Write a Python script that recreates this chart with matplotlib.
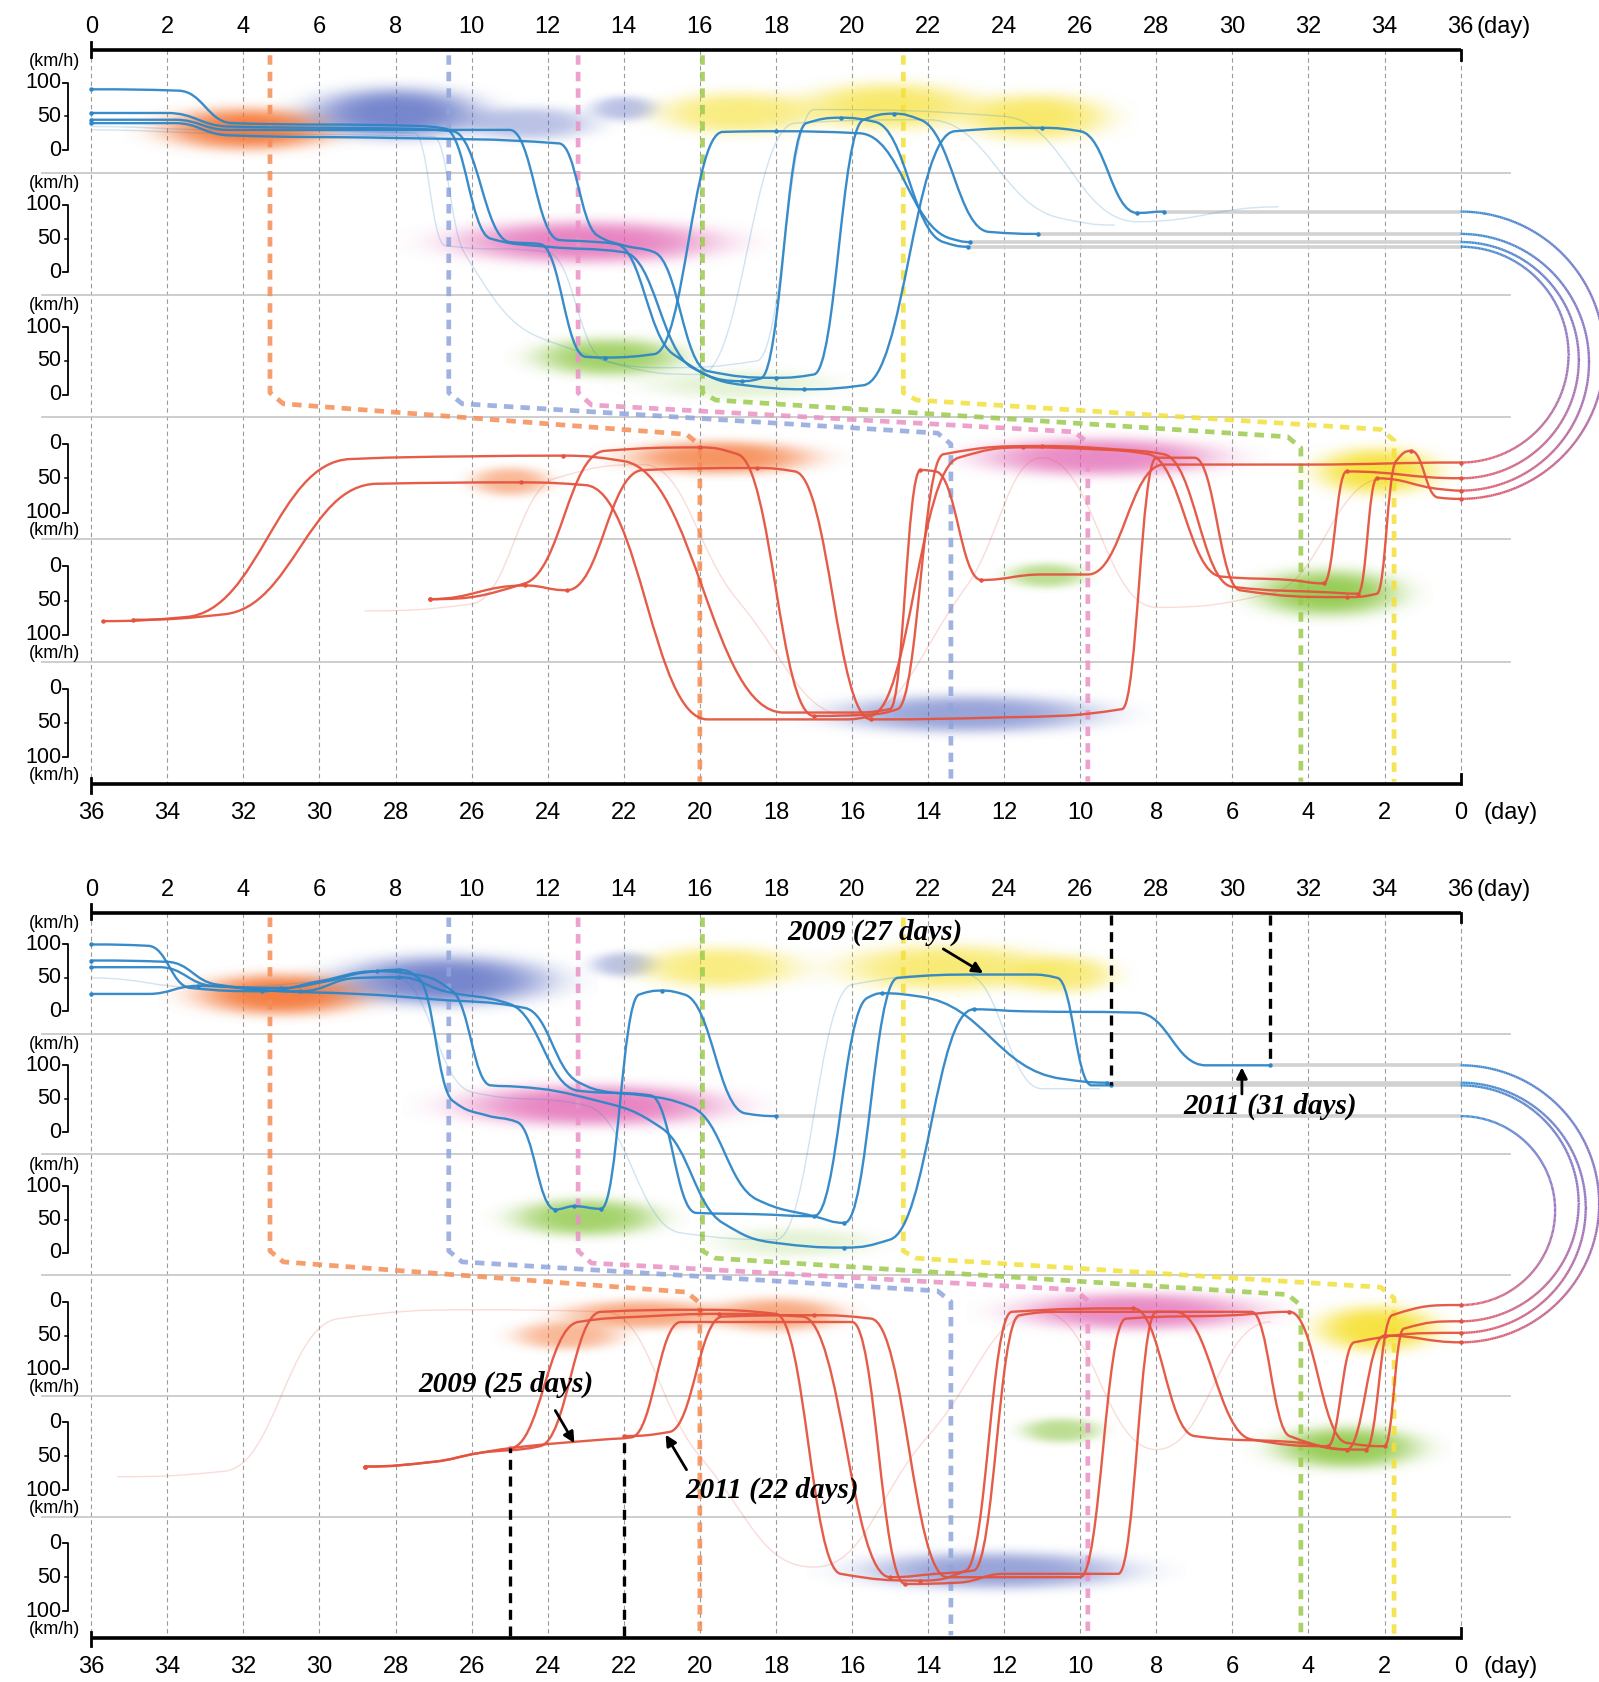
import numpy as np
import matplotlib
matplotlib.use("Agg")
import matplotlib.pyplot as plt
from matplotlib.path import Path
from matplotlib.patches import PathPatch
from matplotlib.collections import LineCollection
from matplotlib.colors import to_rgb

# ------------------------------------------------------------------ data
DAY_TICKS = list(range(0, 37, 2))
SPEED_TICKS = [100, 50, 0]

# trajectories: keyframes (day, lane, speed km/h)
# lanes 0-2 = outbound rows (day counted from left), lanes 3-5 = return rows
# (day counted from the right, as on the bottom axis)
P1_OUT = [
    [(0, 0, 55), (2.0, 0, 55), (3.6, 0, 35), (8.0, 0, 32), (9.5, 0, 28), (11.0, 1, 45), (11.8, 1, 42),
     (13.0, 2, 56), (13.5, 2, 55), (14.8, 2, 60), (16.6, 0, 27), (18.0, 0, 28), (20.2, 0, 25),
     (22.6, 1, 50), (23.1, 1, 45)],
    [(0, 0, 90), (2.3, 0, 88), (3.7, 0, 40), (8.5, 0, 36), (9.3, 0, 32), (10.5, 1, 50), (12.0, 1, 38),
     (14.0, 1, 30), (15.8, 2, 40), (17.2, 2, 14), (18.75, 2, 8), (20.3, 2, 14), (22.7, 0, 28),
     (25.0, 0, 33), (26.0, 0, 28), (27.5, 1, 88), (28.2, 1, 90)],
    [(0, 0, 45), (2.2, 0, 45), (3.6, 0, 30), (11.0, 0, 30), (12.3, 1, 48), (13.0, 1, 46), (13.8, 1, 42),
     (15.3, 2, 60), (17.1, 2, 20), (17.6, 2, 24), (18.8, 0, 40), (19.7, 0, 48), (20.6, 0, 42),
     (22.4, 1, 45), (23.05, 1, 38)],
    [(0, 0, 40), (2.2, 0, 40), (3.6, 0, 22), (8.0, 0, 18), (12.3, 0, 10), (13.3, 1, 55), (14.0, 1, 40),
     (14.8, 1, 30), (16.2, 2, 35), (18.0, 2, 25), (19.0, 2, 30), (20.3, 0, 45), (21.1, 0, 54),
     (21.8, 0, 45), (23.6, 1, 60), (24.9, 1, 57)],
]
P1_RET = [
    [(35.7, 4, 80), (33.5, 4, 74), (29.2, 3, 22), (26.0, 3, 18), (23.6, 3, 17), (22.0, 3, 25),
     (17.8, 5, 35), (16.0, 5, 35), (15.0, 5, 30), (14.2, 3, 38), (13.8, 3, 40), (12.6, 4, 20),
     (11.0, 4, 12), (9.8, 4, 12), (7.8, 3, 30), (4.0, 3, 30), (0, 3, 27)],
    [(34.9, 4, 78), (32.5, 4, 70), (28.5, 3, 58), (24.7, 3, 56), (23.0, 3, 60), (19.8, 5, 45),
     (16.2, 5, 45), (15.5, 5, 40), (13.2, 3, 20), (11.5, 3, 5), (9.5, 3, 8), (8.2, 3, 15),
     (6.3, 4, 15), (4.5, 4, 20), (3.6, 4, 25), (3.0, 3, 40), (0, 3, 50)],
    [(27.1, 4, 48), (24.6, 4, 25), (22.5, 3, 10), (20.0, 3, 5), (19.0, 3, 15), (17.0, 5, 40),
     (15.6, 5, 38), (14.8, 5, 30), (13.6, 3, 15), (11.0, 3, 3), (9.0, 3, 8), (7.8, 3, 15),
     (6.0, 4, 30), (3.5, 4, 38), (2.7, 4, 40), (2.2, 3, 50), (0.5, 3, 66), (0, 3, 68)],
    [(27.1, 4, 48), (24.6, 4, 28), (23.5, 4, 35), (21.5, 3, 38), (18.5, 3, 35), (17.5, 3, 40),
     (15.5, 5, 45), (12.0, 5, 42), (8.9, 5, 30), (8.0, 3, 20), (7.0, 3, 20), (5.8, 4, 35),
     (3.0, 4, 45), (2.2, 4, 40), (1.7, 3, 25), (1.3, 3, 10), (0.6, 3, 78), (0, 3, 80)],
]
P1_OUT_FAINT = [
    [(0, 0, 35), (3.0, 0, 30), (8.5, 0, 25), (9.3, 1, 40), (12.0, 1, 30), (13.5, 2, 50), (16.0, 2, 30),
     (18.5, 0, 40), (22.0, 0, 45), (25.5, 1, 80), (26.9, 1, 70)],
    [(0, 0, 30), (3.2, 0, 25), (9.0, 0, 20), (9.8, 1, 30), (12.5, 2, 70), (15.0, 2, 40), (17.5, 2, 50),
     (19.0, 0, 60), (24.0, 0, 50), (27.5, 1, 75), (31.2, 1, 97)],
]
P1_RET_FAINT = [
    [(28.8, 4, 65), (26.0, 4, 55), (23.8, 3, 50), (21.5, 3, 30), (19.0, 4, 50), (16.0, 5, 40),
     (13.0, 4, 30), (11.0, 3, 20), (8.0, 4, 60), (5.0, 4, 40), (2.0, 3, 50)],
]

P2_OUT = [
    [(0, 0, 66), (1.8, 0, 66), (3.2, 0, 38), (5.0, 0, 35), (6.2, 0, 45), (7.2, 0, 58), (8.1, 0, 62),
     (8.6, 0, 50), (9.5, 1, 47), (10.4, 1, 25), (11.2, 1, 15), (12.2, 2, 65), (12.7, 2, 70),
     (13.4, 2, 66), (14.4, 0, 25), (15.0, 0, 31), (15.6, 0, 25), (17.2, 1, 28), (18.0, 1, 24)],
    [(0, 0, 76), (2.0, 0, 74), (3.3, 0, 40), (5.5, 0, 30), (7.0, 0, 50), (8.1, 0, 51), (9.3, 0, 30),
     (11.0, 0, 11), (12.8, 1, 62), (14.7, 1, 55), (15.9, 2, 60), (17.5, 2, 58), (19.0, 2, 55),
     (20.4, 0, 20), (20.8, 0, 27), (21.8, 0, 22), (25.5, 1, 80), (26.7, 1, 74)],
    [(0, 0, 100), (1.5, 0, 98), (2.6, 0, 35), (4.5, 0, 30), (6.0, 0, 45), (7.5, 0, 60), (8.5, 0, 55),
     (9.5, 0, 30), (10.5, 1, 70), (11.2, 1, 68), (13.3, 1, 47), (15.0, 1, 6), (16.6, 2, 45),
     (18.0, 2, 15), (19.8, 2, 8), (21.0, 2, 20), (23.2, 0, 3), (24.5, 0, 0), (27.5, 0, -2),
     (29.3, 1, 100), (31.0, 1, 100)],
    [(0, 0, 26), (1.5, 0, 26), (2.8, 0, 38), (5.0, 0, 30), (7.0, 0, 26), (9.0, 0, 18), (11.4, 0, 5),
     (12.8, 1, 75), (13.6, 1, 60), (14.5, 1, 55), (15.8, 1, 37), (17.5, 2, 80), (19.0, 2, 55),
     (19.8, 2, 45), (21.2, 0, 50), (23.4, 0, 55), (24.7, 0, 55), (25.4, 0, 50), (26.3, 1, 70),
     (26.8, 1, 70)],
]
P2_RET = [
    [(25.0, 4, 38), (23.2, 3, 30), (21.5, 3, 22), (19.5, 3, 18), (17.3, 3, 22), (15.0, 5, 50),
     (13.8, 5, 45), (12.8, 5, 40), (11.6, 3, 20), (10.5, 3, 15), (7.5, 3, 15), (5.5, 4, 25),
     (3.5, 4, 35), (2.8, 3, 60), (0, 3, 46)],
    [(28.8, 4, 65), (27.0, 4, 58), (25.8, 4, 45), (24.2, 4, 35), (22.6, 3, 15), (20.0, 3, 12),
     (18.0, 3, 18), (16.3, 5, 45), (14.2, 5, 55), (13.0, 5, 40), (11.8, 3, 15), (8.6, 3, 10),
     (7.0, 4, 20), (4.2, 4, 30), (3.0, 4, 40), (2.0, 3, 50), (0, 3, 60)],
    [(28.8, 4, 65), (27.0, 4, 58), (25.8, 4, 45), (25.0, 4, 38), (22.5, 4, 25), (21.8, 4, 22),
     (20.5, 3, 30), (18.0, 3, 30), (16.0, 3, 30), (14.6, 5, 60), (13.2, 5, 58), (12.0, 5, 45),
     (9.0, 5, 45), (8.0, 3, 15), (5.5, 3, 15), (4.5, 4, 20), (2.5, 4, 40), (1.8, 3, 20), (0, 3, 5)],
    [(22.0, 4, 20), (20.8, 4, 14), (19.4, 3, 22), (17.0, 3, 20), (15.5, 3, 25), (13.5, 5, 50),
     (12.0, 5, 50), (10.0, 5, 50), (8.8, 3, 25), (6.0, 3, 20), (4.5, 3, 15), (3.0, 4, 30),
     (2.0, 4, 35), (1.5, 3, 40), (0, 3, 29)],
]
P2_OUT_FAINT = [
    [(0, 0, 50), (3.0, 0, 35), (8.0, 0, 50), (10.0, 1, 60), (13.0, 1, 40), (15.5, 2, 30), (18.0, 2, 20),
     (20.0, 0, 40), (23.0, 0, 55), (25.0, 1, 65), (26.5, 1, 65)],
]
P2_RET_FAINT = [
    [(35.3, 4, 80), (32.5, 4, 72), (29.5, 3, 25), (26.0, 3, 12), (22.5, 3, 15), (20.0, 4, 50),
     (17.0, 5, 35), (14.0, 4, 20), (11.0, 3, 15), (8.0, 4, 40), (5.0, 3, 30)],
]

# stop-over clusters (day, lane, speed, colour kind); return lanes use return day
P1_BLOB_DAY = [4.1, 8.0, 11.5, 14.0, 17.0, 21.0, 24.8, 13.0, 13.6, 17.0, 19.5, 25.0, 9.5, 2.2, 3.5, 10.9, 13.0]
P1_BLOB_LANE = [0, 0, 0, 0, 0, 0, 0, 1, 2, 2, 3, 3, 3, 3, 4, 4, 5]
P1_BLOB_SPEED = [30, 55, 40, 62, 55, 65, 48, 45, 55, 15, 20, 55, 20, 40, 40, 13, 38]
P1_BLOB_KIND = ['orange', 'blue', 'blue', 'blue', 'yellow', 'yellow', 'yellow', 'pink', 'green',
                'lightgreen', 'orange', 'orange', 'pink', 'yellow', 'green', 'green', 'blue']
P2_BLOB_DAY = [5.0, 9.3, 14.0, 16.5, 22.5, 25.5, 13.2, 13.0, 18.5, 21.5, 23.5, 18.0, 8.5, 2.2, 3.0, 10.5, 12.2]
P2_BLOB_LANE = [0, 0, 0, 0, 0, 0, 1, 2, 2, 3, 3, 3, 3, 3, 4, 4, 5]
P2_BLOB_SPEED = [25, 45, 70, 65, 65, 55, 40, 53, 15, 20, 50, 20, 15, 40, 38, 12, 40]
P2_BLOB_KIND = ['orange', 'blue', 'blue', 'yellow', 'yellow', 'yellow', 'pink', 'green', 'lightgreen',
                'orange', 'orange', 'orange', 'pink', 'yellow', 'green', 'green', 'blue']

# coloured event markers: day on the outbound axis, day on the return axis
EVENT_OUT_DAY = [4.7, 9.4, 12.8, 16.07, 21.35]
EVENT_RET_DAY = [20.0, 13.4, 9.8, 4.2, 1.75]
EVENT_KIND = ['orange', 'blue', 'pink', 'green', 'yellow']

ANNOT_TEXT = ['2009 (27 days)', '2011 (31 days)', '2009 (25 days)', '2011 (22 days)']
ANNOT_DAY = [26.8, 31.0, 25.0, 22.0]

# ------------------------------------------------------------------ styles
BLOB_RGB = {'orange': '#f4722f', 'blue': '#5468c0', 'pink': '#e05bae', 'yellow': '#f6e02e',
            'green': '#86c43a', 'lightgreen': '#bfe199'}
EVENT_RGB = {'orange': '#f58d55', 'blue': '#8fa5dc', 'pink': '#ea92c6', 'green': '#9ccb4f', 'yellow': '#f3e03a'}
EVENT_Y = {'orange': (2.89, 3.14), 'blue': (2.89, 3.13), 'pink': (2.90, 3.12), 'green': (2.86, 3.16),
           'yellow': (2.86, 3.10)}
# blob sizes (width in days, height in lanes, peak alpha)
P1_BLOB_SIZE = [(6.5, .5, .9), (6.5, .6, .8), (5, .4, .4), (2.5, .3, .4), (6, .5, .6), (6.5, .55, .7),
                (5.5, .55, .7), (10, .5, .75), (5.5, .45, .75), (7, .35, .4), (7, .4, .75), (3, .35, .5),
                (9, .45, .7), (4.5, .55, .9), (5.5, .55, .85), (3, .3, .55), (10, .45, .6)]
P2_BLOB_SIZE = [(6.5, .5, .9), (8, .6, .8), (2.5, .3, .4), (6, .5, .6), (8, .55, .65), (4, .45, .6),
                (10, .5, .75), (5.5, .45, .75), (6, .35, .4), (6, .35, .6), (4, .35, .5), (5, .4, .6),
                (9, .45, .7), (4.5, .55, .9), (5.5, .5, .85), (3, .3, .55), (10, .45, .6)]

BLUE = '#2e86c6'
RED = '#e4533f'
FONT = 'Liberation Sans'
HANDLE = 0.45

FIG_W, FIG_H = 1599, 1682
X0_PX, PX_DAY = 91.2, 38.04
# (axes top px, axes bottom px, top-axis px, px per lane)
PANELS = [(0, 848, 50.4, 122.27), (848, 1682, 912.7, 120.83)]


def lane_y(lane, v):
    if lane < 3:
        return lane + 0.816 - 0.00553 * v
    return lane + 0.219 + 0.00561 * v


def kf_xy(kf, ret):
    xs = np.array([(36 - d) if ret else d for d, l, v in kf], float)
    ys = np.array([lane_y(l, v) for d, l, v in kf], float)
    return xs, ys


def pchip_tangents(xs, ys):
    h = np.diff(xs)
    delta = np.diff(ys) / h
    n = len(xs)
    m = np.zeros(n)
    for k in range(1, n - 1):
        if delta[k - 1] * delta[k] <= 0:
            m[k] = 0.0
        else:
            h0, h1 = abs(h[k - 1]), abs(h[k])
            w1, w2 = 2 * h1 + h0, h1 + 2 * h0
            m[k] = (w1 + w2) / (w1 / delta[k - 1] + w2 / delta[k])
    return m, delta


def curve_path(xs, ys):
    m, _ = pchip_tangents(xs, ys)
    verts = [(xs[0], ys[0])]
    codes = [Path.MOVETO]
    for i in range(1, len(xs)):
        x0, y0, x1, y1 = xs[i - 1], ys[i - 1], xs[i], ys[i]
        dx = (x1 - x0) * HANDLE
        lo, hi = min(y0, y1), max(y0, y1)
        c1y = float(np.clip(y0 + m[i - 1] * dx, lo, hi))
        c2y = float(np.clip(y1 - m[i] * dx, lo, hi))
        verts += [(x0 + dx, c1y), (x1 - dx, c2y), (x1, y1)]
        codes += [Path.CURVE4] * 3
    return Path(verts, codes)


def draw_traj(ax, kf, ret, color, lw, alpha, z, dots=True):
    xs, ys = kf_xy(kf, ret)
    ax.add_patch(PathPatch(curve_path(xs, ys), fc='none', ec=color, lw=lw, alpha=alpha,
                           zorder=z, capstyle='round', joinstyle='round'))
    if dots:
        _, delta = pchip_tangents(xs, ys)
        idx = [0, len(xs) - 1]
        for k in range(1, len(xs) - 1):
            if delta[k - 1] * delta[k] < 0:
                idx.append(k)
        ax.plot(xs[idx], ys[idx], 'o', ms=3.2, color=color, mec='none', zorder=z + 0.1)


def draw_blob(ax, xc, yc, w, h, color, alpha):
    nx, ny = 160, 60
    gx = np.linspace(-1, 1, nx)
    gy = np.linspace(-1, 1, ny)
    X, Y = np.meshgrid(gx, gy)
    r2 = X ** 2 + Y ** 2
    a = alpha * np.exp(-4.0 * r2 ** 1.8)
    img = np.zeros((ny, nx, 4))
    img[..., :3] = to_rgb(color)
    img[..., 3] = a
    ax.imshow(img, extent=(xc - w / 2, xc + w / 2, yc + h / 2, yc - h / 2), aspect='auto',
              interpolation='bilinear', zorder=1)


def grad_color(t):
    b = np.array(to_rgb('#3b8fd3'))
    p = np.array(to_rgb('#9a72c0'))
    r = np.array(to_rgb('#e5606a'))
    if t < 0.5:
        return tuple(b + (p - b) * t * 2)
    return tuple(p + (r - p) * (t - 0.5) * 2)


def draw_panel(ax, geom, out, ret, out_f, ret_f, bday, blane, bspeed, bkind, bsize):
    ax_top, ax_bot, top_px, lane_px = geom
    xlim = (-X0_PX / PX_DAY, (FIG_W - X0_PX) / PX_DAY)
    ylim = ((ax_bot - top_px) / lane_px, (ax_top - top_px) / lane_px)
    ax.set_axis_off()

    # vertical dashed day grid
    for d in DAY_TICKS:
        ax.plot([d, d], [0, 6], color='#9a9a9a', lw=0.8, ls=(0, (4, 3)), zorder=0.5)
    # lane separators
    for k in range(1, 6):
        ax.plot([-1.3, 37.3], [k, k], color='#c9c9c9', lw=1.3, zorder=0.6)

    # blobs
    for d, l, v, kind, (w, h, a) in zip(bday, blane, bspeed, bkind, bsize):
        x = (36 - d) if l >= 3 else d
        draw_blob(ax, x, lane_y(l, v), w, h, BLOB_RGB[kind], a)

    # coloured event lines
    for dout, dret, kind in zip(EVENT_OUT_DAY, EVENT_RET_DAY, EVENT_KIND):
        xb = 36 - dret
        ys, ye = EVENT_Y[kind]
        px = [dout, dout, dout + 0.35, xb - 0.35, xb, xb]
        py = [0.04, 2.80, ys, ye, ye + 0.09, 5.98]
        ax.plot(px, py, color=EVENT_RGB[kind], lw=3.4, ls=(0, (2.0, 1.5)), alpha=0.85, zorder=2,
                solid_joinstyle='round')

    # faint trajectories
    for kf in out_f:
        draw_traj(ax, kf, False, BLUE, 1.0, 0.22, 2.5, dots=False)
    for kf in ret_f:
        draw_traj(ax, kf, True, RED, 1.0, 0.2, 2.5, dots=False)

    # gray connectors from outbound ends to day 36
    out_end_y = []
    for kf in out:
        d, l, v = kf[-1]
        y = lane_y(l, v)
        out_end_y.append(y)
        ax.plot([d, 36], [y, y], color='#d2d2d2', lw=2.6, zorder=2.2, solid_capstyle='butt')
    ret_end_y = [lane_y(kf[-1][1], kf[-1][2]) for kf in ret]

    # main trajectories
    for kf in out:
        draw_traj(ax, kf, False, BLUE, 1.7, 0.95, 3)
    for kf in ret:
        draw_traj(ax, kf, True, RED, 1.7, 0.95, 3)

    # connecting arcs on the right
    for yt, yb in zip(sorted(out_end_y), sorted(ret_end_y, reverse=True)):
        yc, r = (yt + yb) / 2, (yb - yt) / 2
        th = np.linspace(0, np.pi, 240)
        x = 36 + r * lane_px / PX_DAY * np.sin(th)
        y = yc - r * np.cos(th)
        pts = np.column_stack([x, y]).reshape(-1, 1, 2)
        segs = np.concatenate([pts[:-1], pts[1:]], axis=1)
        cols = [grad_color(t) for t in np.linspace(0, 1, len(segs))]
        ax.add_collection(LineCollection(segs, colors=cols, linewidths=1.7, zorder=3))

    # axes lines
    ax.plot([0, 36], [0, 0], color='black', lw=2.6, zorder=4, solid_capstyle='butt')
    ax.plot([0, 36], [6, 6], color='black', lw=2.6, zorder=4, solid_capstyle='butt')
    ax.plot([0, 0], [-0.07, 0.05], color='black', lw=2, zorder=4)
    ax.plot([36, 36], [0, 0.08], color='black', lw=2, zorder=4)
    ax.plot([0, 0], [5.95, 6.07], color='black', lw=2, zorder=4)
    ax.plot([36, 36], [5.92, 6.0], color='black', lw=2, zorder=4)
    for d in DAY_TICKS:
        ax.text(d, -0.19, str(d), ha='center', va='center', fontsize=17, family=FONT, zorder=5)
        ax.text(d, 6.24, str(36 - d), ha='center', va='center', fontsize=17, family=FONT, zorder=5)
    ax.text(36.42, -0.19, '(day)', ha='left', va='center', fontsize=17, family=FONT)
    ax.text(36.6, 6.24, '(day)', ha='left', va='center', fontsize=17, family=FONT)

    # speed scales
    for k in range(6):
        y100, y50, y0 = lane_y(k, 100), lane_y(k, 50), lane_y(k, 0)
        ax.plot([-0.74, -0.6, -0.6, -0.74], [y100, y100, y0, y0], color='black', lw=1.3, zorder=4)
        ax.plot([-0.68, -0.6], [y50, y50], color='black', lw=1.1, zorder=4)
        for v, yy in zip(SPEED_TICKS, (y100, y50, y0)):
            ax.text(-0.78, yy, str(v), ha='right', va='center', fontsize=15.5, family=FONT, zorder=5)
        ykm = k + 0.09 if k < 3 else k + 0.93
        ax.text(-0.97, ykm, '(km/h)', ha='center', va='center', fontsize=13, family=FONT, zorder=5)

    ax.set_xlim(*xlim)
    ax.set_ylim(*ylim)


fig = plt.figure(figsize=(FIG_W / 100, FIG_H / 100), dpi=100)
fig.patch.set_facecolor('white')
axes = []
for geom in PANELS:
    ax_top, ax_bot = geom[0], geom[1]
    ax = fig.add_axes([0, 1 - ax_bot / FIG_H, 1, (ax_bot - ax_top) / FIG_H])
    axes.append(ax)

draw_panel(axes[0], PANELS[0], P1_OUT, P1_RET, P1_OUT_FAINT, P1_RET_FAINT,
           P1_BLOB_DAY, P1_BLOB_LANE, P1_BLOB_SPEED, P1_BLOB_KIND, P1_BLOB_SIZE)
draw_panel(axes[1], PANELS[1], P2_OUT, P2_RET, P2_OUT_FAINT, P2_RET_FAINT,
           P2_BLOB_DAY, P2_BLOB_LANE, P2_BLOB_SPEED, P2_BLOB_KIND, P2_BLOB_SIZE)

# annotations on the second panel
ax = axes[1]
tfont = dict(family='Liberation Serif', fontweight='bold', fontstyle='italic', fontsize=21, zorder=6)
aprops = dict(arrowstyle='-|>', color='black', lw=2, mutation_scale=16, shrinkA=0, shrinkB=0)
bk = dict(color='black', lw=2.4, ls=(0, (3, 2)), zorder=5)
# outbound durations
y09 = lane_y(P2_OUT[3][-1][1], P2_OUT[3][-1][2])
y11 = lane_y(P2_OUT[2][-1][1], P2_OUT[2][-1][2])
ax.plot([ANNOT_DAY[0]] * 2, [0.02, y09], **bk)
ax.plot([ANNOT_DAY[1]] * 2, [0.02, y11], **bk)
ax.text(20.6, 0.16, ANNOT_TEXT[0], ha='center', va='center', **tfont)
ax.annotate('', xy=(23.45, 0.5), xytext=(22.4, 0.3), arrowprops=aprops, zorder=6)
ax.text(31.0, 1.6, ANNOT_TEXT[1], ha='center', va='center', **tfont)
ax.annotate('', xy=(30.25, 1.28), xytext=(30.25, 1.5), arrowprops=aprops, zorder=6)
# return durations
ax.plot([36 - ANNOT_DAY[2]] * 2, [5.99, lane_y(4, 38)], **bk)
ax.plot([36 - ANNOT_DAY[3]] * 2, [5.99, lane_y(4, 20)], **bk)
ax.text(10.9, 3.9, ANNOT_TEXT[2], ha='center', va='center', **tfont)
ax.annotate('', xy=(12.7, 4.39), xytext=(12.2, 4.12), arrowprops=aprops, zorder=6)
ax.text(17.9, 4.78, ANNOT_TEXT[3], ha='center', va='center', **tfont)
ax.annotate('', xy=(15.1, 4.32), xytext=(15.65, 4.61), arrowprops=aprops, zorder=6)

fig.savefig('out.png', dpi=100, facecolor='white')
